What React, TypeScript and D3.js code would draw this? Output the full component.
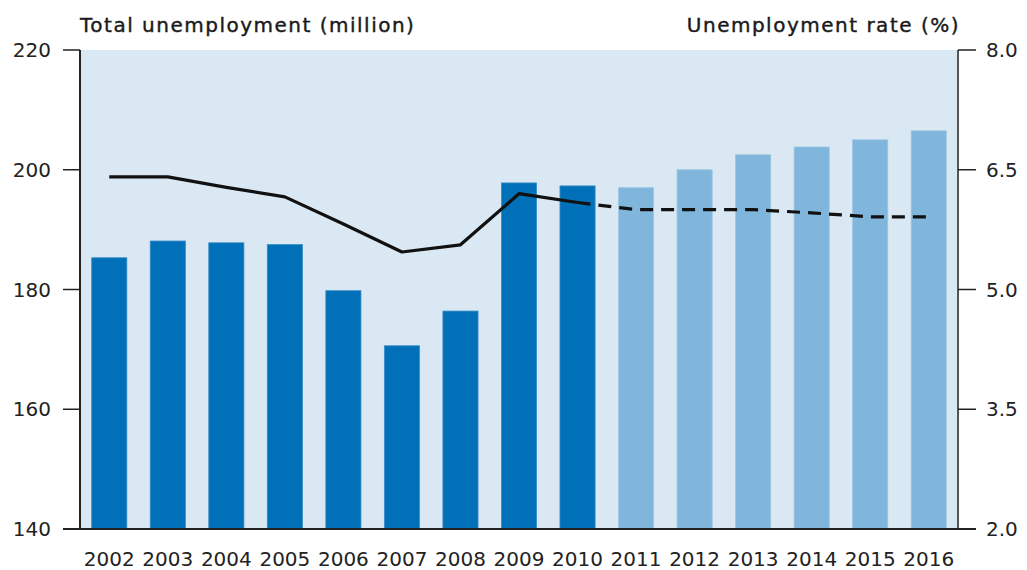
import React from "react";
import * as d3 from "d3";

const years = ["2002","2003","2004","2005","2006","2007","2008","2009","2010","2011","2012","2013","2014","2015","2016"];
const unemployment = [185.3,188.1,187.8,187.5,179.8,170.6,176.4,197.8,197.3,197.0,200.0,202.5,203.8,205.0,206.5];
const projected = [false,false,false,false,false,false,false,false,false,true,true,true,true,true,true];
const rate = [6.41,6.41,6.28,6.16,5.82,5.47,5.56,6.2,6.09,6.0,6.0,6.0,5.96,5.91,5.91];
const leftTicks = [140,160,180,200,220];
const rightTicks = [2.0,3.5,5.0,6.5,8.0];

const W = 1027, H = 570;
const L = 80, R = 958, T = 50, B = 529;
const FONT = "'DejaVu Sans', sans-serif";

export default function App() {
  const x = d3.scaleBand<string>().domain(years).range([L, R]).paddingInner(0.4).paddingOuter(0.2);
  const yL = d3.scaleLinear().domain([140, 220]).range([B, T]);
  const yR = d3.scaleLinear().domain([2, 8]).range([B, T]);
  const cx = (i: number) => (x(years[i]) as number) + x.bandwidth() / 2;
  const line = d3.line<number>().x((_, i) => cx(i)).y((d) => yR(d));
  const solidIdx = 8;
  const solidPath = line(rate.slice(0, solidIdx + 1)) as string;
  const dashLine = d3.line<number>().x((_, i) => cx(i + solidIdx)).y((d) => yR(d));
  const dashPath = dashLine(rate.slice(solidIdx)) as string;

  return (
    <svg width={W} height={H} style={{ position: "absolute", left: 0, top: 0, background: "#fff" }}>
      <rect x={L} y={T} width={R - L} height={B - T} fill="#d9e8f3" />
      {unemployment.map((v, i) => (
        <rect key={years[i]} x={x(years[i])} y={yL(v)} width={x.bandwidth()} height={B - yL(v)}
          fill={projected[i] ? "#80b6dc" : "#0070b8"} stroke={projected[i] ? "#9cc6e4" : "#3a8cc6"} strokeWidth={0.8} />
      ))}
      <path d={solidPath} fill="none" stroke="#111" strokeWidth={3.2} strokeLinejoin="round" />
      <path d={dashPath} fill="none" stroke="#111" strokeWidth={3.2} strokeDasharray="13,8" />
      {/* left axis */}
      <line x1={L} y1={T} x2={L} y2={B} stroke="#222" strokeWidth={2} />
      {leftTicks.map((t) => (
        <g key={t}>
          <line x1={63} x2={L} y1={yL(t)} y2={yL(t)} stroke="#222" strokeWidth={1.5} />
          <text x={51} y={yL(t)} dy="0.36em" textAnchor="end" fontFamily={FONT} fontSize={20} fill="#222">{t}</text>
        </g>
      ))}
      {/* right axis */}
      <line x1={R} y1={T} x2={R} y2={B} stroke="#555" strokeWidth={2} />
      {rightTicks.map((t) => (
        <g key={t}>
          <line x1={R} x2={976} y1={yR(t)} y2={yR(t)} stroke="#222" strokeWidth={1.5} />
          <text x={986} y={yR(t)} dy="0.36em" textAnchor="start" fontFamily={FONT} fontSize={20} fill="#222">{t.toFixed(1)}</text>
        </g>
      ))}
      {/* bottom axis */}
      <line x1={63} x2={976} y1={B} y2={B} stroke="#222" strokeWidth={2} />
      {years.map((y, i) => (
        <text key={y} x={cx(i)} y={566} textAnchor="middle" fontFamily={FONT} fontSize={20} fill="#222">{y}</text>
      ))}
      <text x={80} y={32} fontFamily={FONT} fontSize={20} letterSpacing={1.5} fill="#1a1a1a" stroke="#1a1a1a" strokeWidth={0.4}>Total unemployment (million)</text>
      <text x={960} y={32} textAnchor="end" fontFamily={FONT} fontSize={20} letterSpacing={1.5} fill="#1a1a1a" stroke="#1a1a1a" strokeWidth={0.4}>Unemployment rate (%)</text>
    </svg>
  );
}
